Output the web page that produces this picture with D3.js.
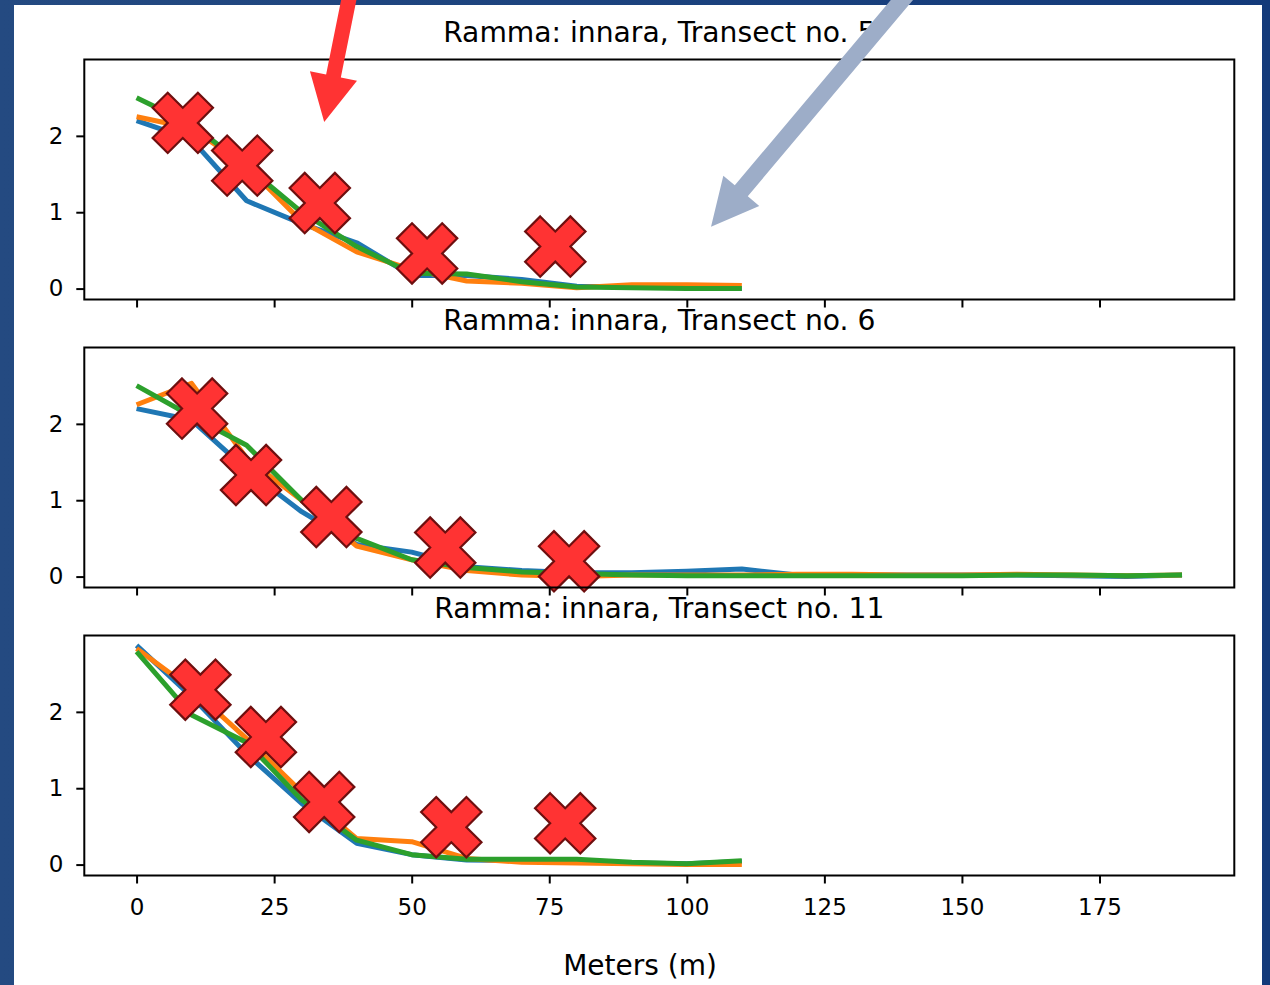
<!DOCTYPE html>
<html>
<head>
<meta charset="utf-8">
<script src="https://cdn.jsdelivr.net/npm/d3@7"></script>
<style>
body { margin: 0; background: #1b4280; }
svg { display: block; }
text { font-family: "DejaVu Sans", sans-serif; fill: #000; }
</style>
</head>
<body>
<svg width="1270" height="985"></svg>
<script>
// distances along the transect (m)
const dist_short = [0, 10, 20, 30, 40, 50, 60, 70, 80, 90, 100, 110];
const dist_long = [0, 10, 20, 30, 40, 50, 60, 70, 80, 90, 100, 110, 120, 130, 140, 150, 160, 170, 180, 190];

const titles = ['Ramma: innara, Transect no. 5', 'Ramma: innara, Transect no. 6', 'Ramma: innara, Transect no. 11'];
const x_ticks = [0, 25, 50, 75, 100, 125, 150, 175];
const y_ticks = [0, 1, 2];
const x_label = 'Meters (m)';

// transect 5
const t5_blue = [2.2, 1.95, 1.15, 0.85, 0.6, 0.17, 0.17, 0.12, 0.03, 0.02, 0.01, 0.0];
const t5_orange = [2.25, 2.1, 1.6, 0.88, 0.48, 0.25, 0.1, 0.07, 0.01, 0.05, 0.05, 0.04];
const t5_green = [2.5, 2.15, 1.6, 1.0, 0.55, 0.2, 0.19, 0.09, 0.02, 0.01, 0.0, 0.0];
const t5_cross_x = [8.4, 19.2, 33.3, 52.8, 76.1];
const t5_cross_y = [2.17, 1.61, 1.12, 0.46, 0.55];

// transect 6
const t6_blue = [2.2, 2.05, 1.4, 0.85, 0.42, 0.32, 0.13, 0.08, 0.05, 0.05, 0.07, 0.1, 0.02, 0.02, 0.02, 0.02, 0.02, 0.01, 0.0, 0.02];
const t6_orange = [2.25, 2.53, 1.55, 1.0, 0.4, 0.22, 0.08, 0.02, 0.0, 0.02, 0.02, 0.02, 0.03, 0.03, 0.02, 0.02, 0.03, 0.02, 0.01, 0.02];
const t6_green = [2.5, 2.1, 1.72, 1.0, 0.5, 0.22, 0.12, 0.06, 0.04, 0.02, 0.01, 0.01, 0.01, 0.01, 0.01, 0.01, 0.02, 0.02, 0.01, 0.02];
const t6_cross_x = [11.0, 20.8, 35.4, 56.1, 78.6];
const t6_cross_y = [2.2, 1.33, 0.78, 0.38, 0.2];

// transect 11
const t11_blue = [2.87, 2.2, 1.45, 0.8, 0.28, 0.13, 0.06, 0.05, 0.05, 0.02, 0.01, 0.04];
const t11_orange = [2.83, 2.3, 1.65, 0.95, 0.34, 0.3, 0.08, 0.03, 0.02, 0.01, 0.0, 0.0];
const t11_green = [2.79, 1.96, 1.6, 0.85, 0.32, 0.13, 0.07, 0.07, 0.07, 0.03, 0.01, 0.05];
const t11_cross_x = [11.6, 23.5, 34.1, 57.2, 77.9];
const t11_cross_y = [2.29, 1.67, 0.82, 0.49, 0.54];

const colors = ['#1f77b4', '#ff7f0e', '#2ca02c'];

const panels = [
    {title: titles[0], dist: dist_short, series: [t5_blue, t5_orange, t5_green], cx: t5_cross_x, cy: t5_cross_y},
    {title: titles[1], dist: dist_long, series: [t6_blue, t6_orange, t6_green], cx: t6_cross_x, cy: t6_cross_y},
    {title: titles[2], dist: dist_short, series: [t11_blue, t11_orange, t11_green], cx: t11_cross_x, cy: t11_cross_y}
];

const svg = d3.select('svg');

// blue slide background + white figure area
const grad = svg.append('defs').append('linearGradient').attr('id', 'bg')
    .attr('x1', 0).attr('x2', 1).attr('y1', 0).attr('y2', 0);
grad.append('stop').attr('offset', 0).attr('stop-color', '#244a81');
grad.append('stop').attr('offset', 1).attr('stop-color', '#133a7a');
svg.append('rect').attr('width', 1270).attr('height', 985).attr('fill', 'url(#bg)');
svg.append('rect').attr('x', 14).attr('y', 5).attr('width', 1248).attr('height', 990).attr('fill', '#fff');

const left = 84.3, right = 1234.3, panelH = 240;
const tops = [59.5, 347.5, 635.5];

const x = d3.scaleLinear().domain([-9.5, 199.5]).range([left, right]);

const crossSize = 64;
const cross = d3.symbol().type(d3.symbolCross).size(20 * (crossSize / 6) ** 2);

let firstY;

panels.forEach((p, i) => {
    const top = tops[i];
    const y = d3.scaleLinear().domain([-0.143, 3.0]).range([top + panelH, top]);
    if (i === 0) firstY = y;
    const g = svg.append('g');

    const line = d3.line().x((d, k) => x(p.dist[k])).y(d => y(d));
    g.selectAll('path.series')
        .data(p.series)
        .join('path')
        .attr('class', 'series')
        .attr('d', d => line(d))
        .style('fill', 'none')
        .style('stroke', (d, k) => colors[k])
        .style('stroke-width', '5px')
        .style('stroke-linejoin', 'round');

    g.selectAll('path.cross')
        .data(p.cx)
        .join('path')
        .attr('class', 'cross')
        .attr('d', cross)
        .attr('transform', (d, k) => `translate(${x(d)},${y(p.cy[k])}) rotate(45)`)
        .attr('fill', '#ff3333')
        .attr('stroke', '#6e0f0f')
        .attr('stroke-width', 2.2);

    g.append('rect')
        .attr('x', left).attr('y', top)
        .attr('width', right - left).attr('height', panelH)
        .attr('fill', 'none').attr('stroke', '#000').attr('stroke-width', 2);

    const xa = g.append('g').attr('transform', `translate(0,${top + panelH})`)
        .call(d3.axisBottom(x).tickValues(x_ticks).tickSize(8).tickPadding(15)
            .tickFormat(i === 2 ? d3.format('d') : () => ''));
    const ya = g.append('g').attr('transform', `translate(${left},0)`)
        .call(d3.axisLeft(y).tickValues(y_ticks).tickSize(8).tickPadding(13).tickFormat(d3.format('d')));

    [xa, ya].forEach(a => {
        a.select('.domain').remove();
        a.selectAll('line').attr('stroke', '#000').attr('stroke-width', 2);
        a.selectAll('text').attr('font-size', 23).attr('fill', '#000')
            .style('font-family', '"DejaVu Sans", sans-serif');
    });

    g.append('text')
        .attr('x', (left + right) / 2).attr('y', top - 18)
        .attr('text-anchor', 'middle').attr('font-size', 28.2)
        .text(p.title);
});

svg.append('text')
    .attr('x', 640).attr('y', 975)
    .attr('text-anchor', 'middle').attr('font-size', 28)
    .text(x_label);

// annotation arrows, placed in the first panel's data coordinates
function arrow(x0, y0, x1, y1, shaft, headW, headL) {
    const dx = x1 - x0, dy = y1 - y0, len = Math.hypot(dx, dy);
    const ux = dx / len, uy = dy / len, px = -uy, py = ux;
    const bx = x1 - ux * headL, by = y1 - uy * headL;
    const pts = [
        [x0 + px * shaft / 2, y0 + py * shaft / 2],
        [bx + px * shaft / 2, by + py * shaft / 2],
        [bx + px * headW / 2, by + py * headW / 2],
        [x1, y1],
        [bx - px * headW / 2, by - py * headW / 2],
        [bx - px * shaft / 2, by - py * shaft / 2],
        [x0 - px * shaft / 2, y0 - py * shaft / 2]
    ];
    return d3.line()(pts) + 'Z';
}

svg.append('path')
    .attr('d', arrow(x(38.9), firstY(3.9), x(34.1), firstY(2.18), 15, 48, 47))
    .attr('fill', '#ff3333');
svg.append('path')
    .attr('d', arrow(x(140.5), firstY(3.9), x(104.4), firstY(0.81), 17, 47, 47))
    .attr('fill', '#9dadc8');
</script>
</body>
</html>
